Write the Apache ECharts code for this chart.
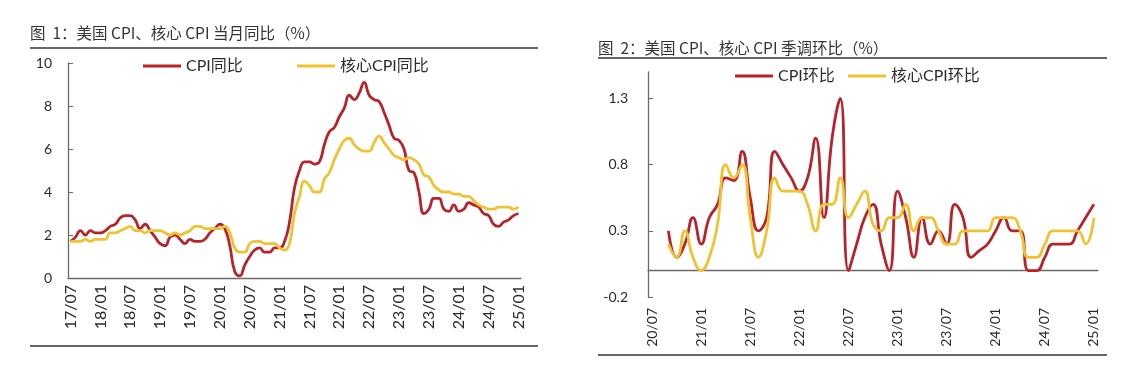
<!DOCTYPE html>
<html>
<head>
<meta charset="utf-8">
<script src="https://cdn.jsdelivr.net/npm/echarts@6/dist/echarts.min.js"></script>
<style>
html,body{margin:0;padding:0;background:#fff;}
#c{width:1148px;height:386px;}
</style>
</head>
<body>
<div id="c"></div>
<script>
// ---------- DATA ----------
function monthRange(startY, startM, endY, endM) {
  const out = [];
  let y = startY, m = startM;
  while (y < endY || (y === endY && m <= endM)) {
    out.push(String(y).padStart(2, '0') + '/' + String(m).padStart(2, '0'));
    m++; if (m > 12) { m = 1; y++; }
  }
  return out;
}
const leftMonths = monthRange(17, 7, 25, 1);   // 17/07 ... 25/01
const rightMonths = monthRange(20, 7, 25, 1);  // 20/07 ... 25/01

const cpiYoY = [1.7,1.9,2.2,2.0,2.2,2.1,
  2.1,2.2,2.4,2.5,2.8,2.9,2.9,2.7,2.3,2.5,2.2,1.9,
  1.6,1.5,1.9,2.0,1.8,1.6,1.8,1.7,1.7,1.8,2.1,2.3,
  2.5,2.3,1.5,0.3,0.1,0.6,1.0,1.3,1.4,1.2,1.2,1.4,
  1.4,1.7,2.6,4.2,5.0,5.4,5.4,5.3,5.4,6.2,6.8,7.0,
  7.5,7.9,8.5,8.3,8.6,9.1,8.5,8.3,8.2,7.7,7.1,6.5,
  6.4,6.0,5.0,4.9,4.0,3.0,3.2,3.7,3.7,3.2,3.1,3.4,
  3.1,3.2,3.5,3.4,3.3,3.0,2.9,2.5,2.4,2.6,2.7,2.9,
  3.0];
const coreYoY = [1.7,1.7,1.7,1.8,1.7,1.8,
  1.8,1.8,2.1,2.1,2.2,2.3,2.4,2.2,2.2,2.1,2.2,2.2,
  2.2,2.1,2.0,2.1,2.0,2.1,2.2,2.4,2.4,2.3,2.3,2.3,
  2.3,2.4,2.1,1.4,1.2,1.2,1.6,1.7,1.7,1.6,1.6,1.6,
  1.4,1.3,1.6,3.0,3.8,4.5,4.3,4.0,4.0,4.6,4.9,5.5,
  6.0,6.4,6.5,6.2,6.0,5.9,5.9,6.3,6.6,6.3,6.0,5.7,
  5.6,5.5,5.6,5.5,5.3,4.8,4.7,4.3,4.1,4.0,4.0,3.9,
  3.9,3.8,3.8,3.6,3.4,3.3,3.2,3.2,3.3,3.3,3.3,3.2,
  3.3];

const cpiMoM = [null,null,0.3,0.1,0.2,0.4,
  0.2,0.4,0.5,0.7,0.68,0.9,0.55,0.3,0.4,0.9,0.8,0.7,
  0.6,0.7,1.0,0.4,1.0,1.3,0.0,0.2,0.4,0.5,0.2,0.0,
  0.6,0.4,0.1,0.4,0.2,0.3,0.2,0.5,0.4,0.1,0.15,0.2,
  0.3,0.4,0.3,0.3,0.0,0.0,0.1,0.2,0.2,0.2,0.3,0.4,
  0.5];
const coreMoM = [null,null,0.2,0.1,0.3,0.1,
  0.0,0.1,0.35,0.8,0.7,0.8,0.4,0.1,0.3,0.7,0.6,0.6,
  0.6,0.5,0.3,0.5,0.5,0.7,0.4,0.5,0.6,0.35,0.3,0.4,
  0.4,0.5,0.3,0.4,0.4,0.3,0.2,0.2,0.3,0.3,0.3,0.3,
  0.4,0.4,0.4,0.3,0.1,0.1,0.2,0.3,0.3,0.3,0.3,0.2,
  0.4];

const leftTitle = '图  1：美国 CPI、核心 CPI 当月同比（%）';
const rightTitle = '图  2：美国 CPI、核心 CPI 季调环比（%）';
const leftNames = ['CPI同比', '核心CPI同比'];
const rightNames = ['CPI环比', '核心CPI环比'];

// ---------- STYLE ----------
const RED = '#B8232A';
const YEL = '#F0C232';
const FONT = 'Lato, "Noto Sans CJK SC", sans-serif';
const CJK = '"Noto Sans CJK SC", sans-serif';
const AX = '#6a6a6a';
const TXT = '#2b2b2b';

const chart = echarts.init(document.getElementById('c'), null, {renderer: 'canvas'});

function legendItem(name, left, top) {
  return {
    data: [name], left: left, top: top, padding: 0,
    icon: 'rect', itemWidth: 38, itemHeight: 3,
    textStyle: {fontSize: 16, color: TXT, fontFamily: FONT}
  };
}

function lineSeries(name, data, color, xi, yi) {
  return {
    name: name, type: 'line', data: data, xAxisIndex: xi, yAxisIndex: yi,
    smooth: 0.5, symbol: 'none', connectNulls: false,
    lineStyle: {color: color, width: 2.8},
    itemStyle: {color: color}
  };
}

const option = {
  animation: false,
  backgroundColor: '#fff',
  title: [
    {text: leftTitle, left: 30, top: 25, padding: 0,
     textStyle: {fontSize: 15.5, fontWeight: 'normal', color: '#333', fontFamily: CJK}},
    {text: rightTitle, left: 598, top: 40, padding: 0,
     textStyle: {fontSize: 15.5, fontWeight: 'normal', color: '#333', fontFamily: CJK}}
  ],
  legend: [
    legendItem(leftNames[0], 143, 58),
    legendItem(leftNames[1], 297, 58),
    legendItem(rightNames[0], 735, 68),
    legendItem(rightNames[1], 848, 68)
  ],
  graphic: [
    {type: 'line', shape: {x1: 30, y1: 48, x2: 538, y2: 48}, style: {stroke: '#333', lineWidth: 1.6}},
    {type: 'line', shape: {x1: 30, y1: 346, x2: 538, y2: 346}, style: {stroke: '#333', lineWidth: 1.6}},
    {type: 'line', shape: {x1: 598, y1: 58, x2: 1107, y2: 58}, style: {stroke: '#333', lineWidth: 1.6}},
    {type: 'line', shape: {x1: 598, y1: 355, x2: 1107, y2: 355}, style: {stroke: '#333', lineWidth: 1.6}}
  ],
  grid: [
    {left: 68, top: 63, width: 453, height: 215, containLabel: false},
    {left: 648, top: 72, width: 450, height: 225, containLabel: false}
  ],
  xAxis: [
    {type: 'category', gridIndex: 0, data: leftMonths, boundaryGap: true,
     axisLine: {lineStyle: {color: AX, width: 1.3}},
     axisTick: {inside: true, length: 5, interval: 5, lineStyle: {color: AX}},
     axisLabel: {interval: 5, rotate: 90, margin: 7, fontSize: 16, color: TXT, fontFamily: FONT},
     splitLine: {show: false}},
    {type: 'category', gridIndex: 1, data: rightMonths, boundaryGap: true,
     axisLine: {onZero: true, lineStyle: {color: AX, width: 1.3}},
     axisTick: {inside: true, length: 5, interval: 5, lineStyle: {color: AX}},
     axisLabel: {interval: 5, rotate: 90, margin: 11, fontSize: 14, color: TXT, fontFamily: FONT},
     splitLine: {show: false}}
  ],
  yAxis: [
    {type: 'value', gridIndex: 0, min: 0, max: 10, interval: 2,
     axisLine: {show: true, lineStyle: {color: AX, width: 1.3}},
     axisTick: {show: true, inside: true, length: 5, lineStyle: {color: AX}},
     axisLabel: {margin: 16, fontSize: 14, color: TXT, fontFamily: FONT},
     splitLine: {show: false}},
    {type: 'value', gridIndex: 1, min: -0.2, max: 1.5, interval: 0.5,
     axisLine: {show: true, lineStyle: {color: AX, width: 1.3}},
     axisTick: {show: true, inside: true, length: 5, lineStyle: {color: AX}},
     axisLabel: {margin: 20, fontSize: 14, color: TXT, fontFamily: FONT, showMaxLabel: false,
                 formatter: function (v) { return v.toFixed(1); }},
     splitLine: {show: false}}
  ],
  series: [
    lineSeries(leftNames[0], cpiYoY, RED, 0, 0),
    lineSeries(leftNames[1], coreYoY, YEL, 0, 0),
    lineSeries(rightNames[0], cpiMoM, RED, 1, 1),
    lineSeries(rightNames[1], coreMoM, YEL, 1, 1)
  ]
};
chart.setOption(option);
</script>
</body>
</html>
